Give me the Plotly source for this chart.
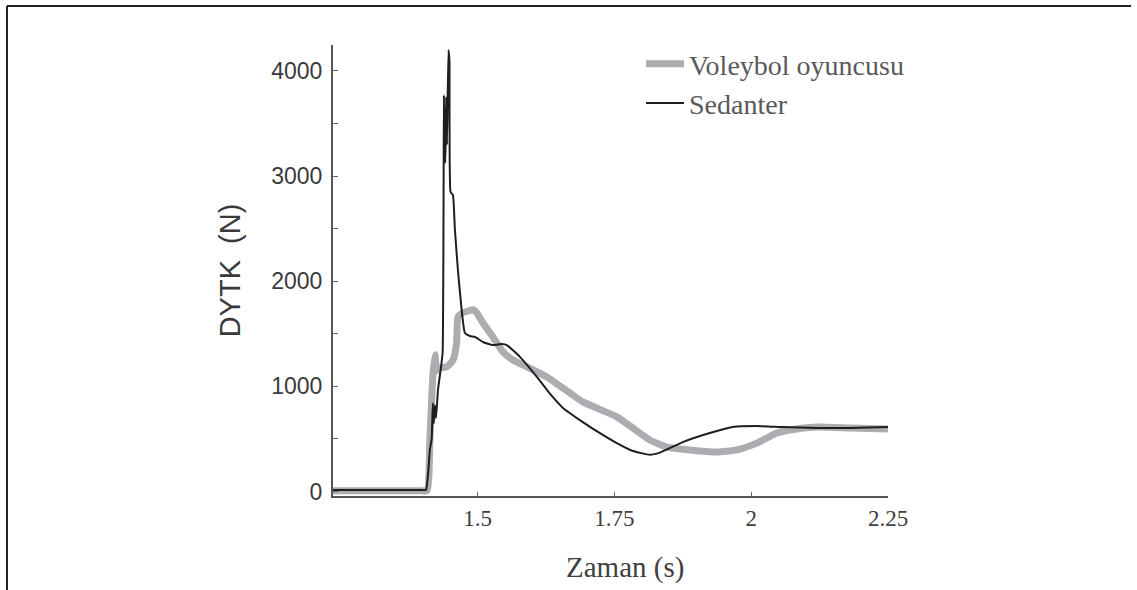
import plotly.graph_objects as go

# ---- data ----
sed_t = [1.2357, 1.2800, 1.3300, 1.3700, 1.3950, 1.4056, 1.4100, 1.4127, 1.4160, 1.4182,
         1.4200, 1.4220, 1.4240, 1.4275, 1.4324, 1.4360, 1.4384, 1.4395, 1.4412, 1.4425,
         1.4440, 1.4467, 1.4485, 1.4505, 1.4549, 1.4585, 1.4640, 1.4708, 1.4768, 1.4859,
         1.4951, 1.5097, 1.5279, 1.5444, 1.5535, 1.5773, 1.6083, 1.6321, 1.6550, 1.6923,
         1.7250, 1.7544, 1.7836, 1.8147, 1.8329, 1.8750, 1.9243, 1.9663, 2.0101, 2.0576,
         2.1197, 2.1800, 2.2500]
sed_f = [15, 15, 15, 15, 15, 15, 200, 395, 500, 840,
         650, 820, 700, 965, 1155, 1317, 3770, 3200, 3130, 3750,
         3300, 4200, 4100, 2850, 2820, 2490, 2107, 1727, 1507, 1479,
         1470, 1422, 1393, 1403, 1393, 1280, 1090, 930, 800, 660,
         550, 460, 385, 350, 370, 470, 556, 613, 623, 613,
         604, 604, 613]

vol_t = [1.2357, 1.2800, 1.3300, 1.3700, 1.3950, 1.4074, 1.4130, 1.4180, 1.4222, 1.4250,
         1.4311, 1.4434, 1.4549, 1.4616, 1.4640, 1.4731, 1.4850, 1.4914, 1.4982, 1.5102,
         1.5279, 1.5462, 1.5645, 1.5900, 1.6266, 1.6686, 1.6923, 1.7544, 1.7836, 1.8147,
         1.8458, 1.8878, 1.9371, 1.9736, 2.0101, 2.0467, 2.0704, 2.1197, 2.1800, 2.2500]
vol_f = [8, 8, 8, 8, 8, 8, 520, 1090, 1300, 1150,
         1175, 1185, 1250, 1410, 1660, 1700, 1720, 1730, 1700, 1600,
         1470, 1327, 1250, 1185, 1090, 937, 852, 710, 604, 490,
         423, 395, 375, 395, 460, 556, 585, 613, 604, 594]

series_names = ["Voleybol oyuncusu", "Sedanter"]
x_ticks = [1.5, 1.75, 2, 2.25]
x_tick_labels = ["1.5", "1.75", "2", "2.25"]
y_ticks = [0, 500, 1000, 1500, 2000, 2500, 3000, 3500, 4000]
y_tick_labels = ["0", "", "1000", "", "2000", "", "3000", "", "4000"]

# ---- layout geometry (pixels) ----
W, H = 1137, 590
L, R, T, B = 333, 888, 45, 496


def px(xp):
    return (xp - L) / (R - L)


def py(yp):
    return (B - yp) / (B - T)


fig = go.Figure()
fig.add_trace(go.Scatter(x=vol_t, y=vol_f, mode="lines", name=series_names[0],
                         line=dict(color="#adadb1", width=7), line_shape="spline",
                         line_smoothing=0.5))
fig.add_trace(go.Scatter(x=sed_t, y=sed_f, mode="lines", name=series_names[1],
                         line=dict(color="#1e1e1e", width=2), line_shape="spline",
                         line_smoothing=0.4))

fig.update_layout(
    width=W, height=H,
    margin=dict(l=L, r=W - R, t=T, b=H - B),
    paper_bgcolor="white", plot_bgcolor="white",
    showlegend=True,
    legend=dict(x=px(641), y=py(39), xanchor="left", yanchor="top",
                font=dict(family="Liberation Serif", size=28, color="#595959"),
                bgcolor="rgba(0,0,0,0)", tracegroupgap=0, itemwidth=38),
    xaxis=dict(range=[1.2357, 2.25], tickmode="array", tickvals=x_ticks, ticktext=x_tick_labels,
               ticks="inside", ticklen=4, tickwidth=1, tickcolor="#666",
               showline=True, linecolor="#555", linewidth=2, showgrid=False, zeroline=False,
               tickfont=dict(family="Liberation Serif", size=23, color="#404040")),
    yaxis=dict(range=[-43, 4247], tickmode="array", tickvals=y_ticks, ticktext=y_tick_labels,
               ticks="inside", ticklen=5, tickwidth=1, tickcolor="#666",
               showline=True, linecolor="#555", linewidth=2, showgrid=False, zeroline=False,
               ticklabelstandoff=4,
               tickfont=dict(family="Liberation Sans", size=23, color="#3a3a3a"),
               title=dict(text="DYTK\u00a0 (N)", standoff=22,
                          font=dict(family="Liberation Sans", size=29, color="#3a3a3a"))),
)

# x-axis title
fig.add_annotation(text="Zaman (s)", xref="paper", yref="paper", x=px(625), y=py(567),
                   xanchor="center", yanchor="middle", showarrow=False,
                   font=dict(family="Liberation Serif", size=29, color="#404040"))

# frame lines of the original figure box
fig.add_shape(type="line", xref="paper", yref="paper", x0=px(7), x1=px(1131), y0=py(6), y1=py(6),
              line=dict(color="#222", width=2))
fig.add_shape(type="line", xref="paper", yref="paper", x0=px(7), x1=px(7), y0=py(6), y1=py(590),
              line=dict(color="#222", width=2))

fig.write_html("out.html")
